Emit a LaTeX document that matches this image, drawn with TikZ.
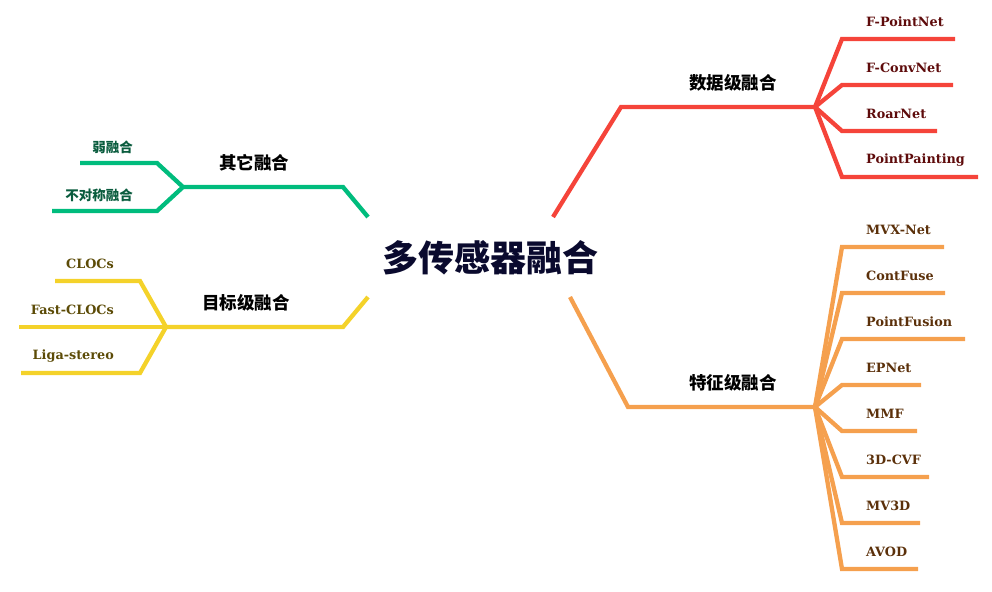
\documentclass[tikz,border=0pt]{standalone}
\usepackage{fontspec}
\usepackage{tikz}
\usetikzlibrary{positioning, calc}
\newfontfamily\cjkfont{Noto Sans CJK SC}
\newfontfamily\slabfont{DejaVu Serif}
\definecolor{rootblue}{HTML}{0A0A2E}
\definecolor{datared}{HTML}{F5443A}
\definecolor{datatext}{HTML}{5E0B0B}
\definecolor{featorange}{HTML}{F5A04E}
\definecolor{feattext}{HTML}{5B300A}
\definecolor{othergreen}{HTML}{00BC7D}
\definecolor{othertext}{HTML}{0A5C3E}
\definecolor{objyellow}{HTML}{F4D22A}
\definecolor{objtext}{HTML}{5C4B07}
\tikzset{
    branch/.style={line width=4.3pt},
    rootlabel/.style={font=\cjkfont\bfseries\fontsize{36}{36}\selectfont, text=rootblue},
    mainlabel/.style={font=\cjkfont\bfseries\fontsize{17.5}{17.5}\selectfont, text=black},
    leaflabel/.style={font=\slabfont\bfseries\fontsize{12.8}{12.8}\selectfont, inner sep=0pt},
    cjkleaf/.style={font=\cjkfont\bfseries\fontsize{13.5}{13.5}\selectfont, inner sep=0pt}
}
\begin{document}
\begin{tikzpicture}[x=1pt, y=-1pt]
    \useasboundingbox (0,0) rectangle (992,591);

    \node[rootlabel] (root) at (490,258) {多传感器融合};

    % data level
    \coordinate (d0) at (553,217);
    \coordinate (d1) at (621,107);
    \coordinate (dj) at (815,107);
    \draw[branch, datared] (d0) -- (d1) -- (dj);
    \node[mainlabel] (data) at (733,83) {数据级融合};
    \foreach \name/\y/\xend/\txt in {
        fpn/39/955/F-PointNet,
        fcn/85/953/F-ConvNet,
        roar/131/937/RoarNet,
        pp/177/978/PointPainting}{

        \coordinate (\name-a) at (842,\y);
        \coordinate (\name-b) at (\xend,\y);
        \draw[branch, datared] (dj) -- (\name-a) -- (\name-b);
        \node[leaflabel, text=datatext, anchor=west] (\name) at (866,\y-17) {\txt};
    }

    % feature level
    \coordinate (f0) at (570,297);
    \coordinate (f1) at (628,407);
    \coordinate (fj) at (815,407);
    \draw[branch, featorange] (f0) -- (f1) -- (fj);
    \node[mainlabel] (feat) at (733,383) {特征级融合};
    \foreach \name/\y/\xend/\txt in {
        mvx/247/944/MVX-Net,
        cfuse/293/945/ContFuse,
        pfus/339/965/PointFusion,
        epnet/385/921/EPNet,
        mmf/431/917/MMF,
        cvf/477/929/3D-CVF,
        mvd/523/920/MV3D,
        avod/569/918/AVOD}{

        \coordinate (\name-a) at (842,\y);
        \coordinate (\name-b) at (\xend,\y);
        \draw[branch, featorange] (fj) -- (\name-a) -- (\name-b);
        \node[leaflabel, text=feattext, anchor=west] (\name) at (866,\y-17) {\txt};
    }

    % other fusion
    \coordinate (g0) at (368,217);
    \coordinate (g1) at (343,187);
    \coordinate (gj) at (183,187);
    \draw[branch, othergreen] (g0) -- (g1) -- (gj);
    \node[mainlabel] (other) at (254,163) {其它融合};
    \foreach \name/\y/\xend/\txt in {
        weak/163/80/弱融合,
        asym/211/52/不对称融合}{

        \coordinate (\name-a) at (157,\y);
        \coordinate (\name-b) at (\xend,\y);
        \draw[branch, othergreen] (gj) -- (\name-a) -- (\name-b);
        \node[cjkleaf, text=othertext, anchor=east] (\name) at (133,\y-16) {\txt};
    }

    % object level
    \coordinate (o0) at (368,297);
    \coordinate (o1) at (343,327);
    \coordinate (oj) at (166,327);
    \draw[branch, objyellow] (o0) -- (o1) -- (oj);
    \node[mainlabel] (obj) at (246,303) {目标级融合};
    \foreach \name/\y/\xend/\txt in {
        clocs/281/55/CLOCs,
        fclocs/327/19/Fast-CLOCs,
        liga/373/21/Liga-stereo}{

        \coordinate (\name-a) at (140,\y);
        \coordinate (\name-b) at (\xend,\y);
        \draw[branch, objyellow] (oj) -- (\name-a) -- (\name-b);
        \node[leaflabel, text=objtext, anchor=east] (\name) at (114,\y-17) {\txt};
    }
\end{tikzpicture}
\end{document}
